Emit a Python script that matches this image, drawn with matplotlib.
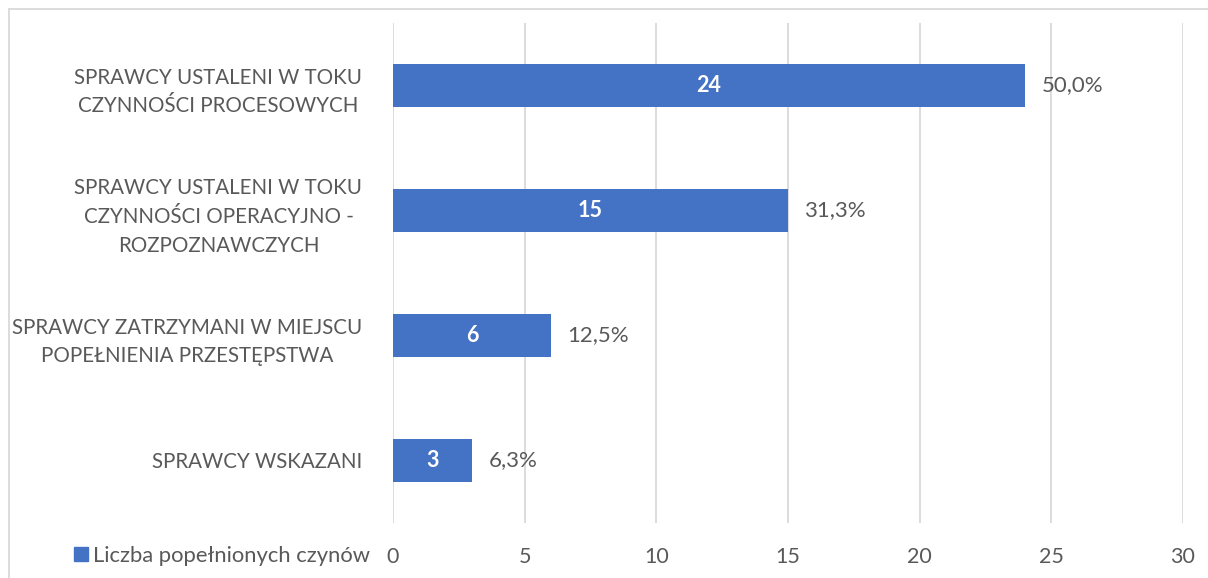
import matplotlib
matplotlib.use("Agg")
import matplotlib.pyplot as plt
from matplotlib.patches import Rectangle

categories = [
    "SPRAWCY USTALENI W TOKU\nCZYNNOŚCI PROCESOWYCH",
    "SPRAWCY USTALENI W TOKU\nCZYNNOŚCI OPERACYJNO -\nROZPOZNAWCZYCH",
    "SPRAWCY ZATRZYMANI W MIEJSCU\nPOPEŁNIENIA PRZESTĘPSTWA",
    "SPRAWCY WSKAZANI",
]
values = [24, 15, 6, 3]
percent_labels = ["50,0%", "31,3%", "12,5%", "6,3%"]
series_name = "Liczba popełnionych czynów"
xticks = [0, 5, 10, 15, 20, 25, 30]

plt.rcParams['font.family'] = ['Lato', 'DejaVu Sans']
BLUE = "#4472C4"
TXT = "#595959"
GRID = "#D9D9D9"

W, H = 1208, 578
fig = plt.figure(figsize=(W / 100, H / 100), dpi=100)
ax = fig.add_axes([393 / W, 1 - 523 / H, (1183 - 393) / W, 500 / H])

ypos = list(range(len(categories)))
ax.barh(ypos, values, height=0.35, color=BLUE, zorder=3)
ax.set_ylim(len(categories) - 0.5, -0.5)
ax.set_xlim(0, 30)
ax.set_xticks(xticks)
ax.set_xticklabels([str(t) for t in xticks], fontsize=15.5, color=TXT)
ax.tick_params(axis='x', length=0, pad=17)
ax.set_yticks(ypos)
ax.set_yticklabels(categories, fontsize=14.8, color=TXT, multialignment='center',
                   linespacing=1.55)
ax.tick_params(axis='y', length=0, pad=22)
ax.grid(axis='x', color=GRID, linewidth=1.3, zorder=0)
for s in ax.spines.values():
    s.set_visible(False)

for y, v, p in zip(ypos, values, percent_labels):
    ax.text(v / 2, y, str(v), ha='center', va='center', color='white',
            fontsize=15.5, fontweight='bold', zorder=4)
    ax.text(v + 0.62, y, p, ha='left', va='center', color=TXT, fontsize=16, zorder=4)

handle = Rectangle((0, 0), 1, 1, color=BLUE)
fig.legend([handle], [series_name], loc='center right',
           bbox_to_anchor=(370 / W, 1 - 556 / H), frameon=False,
           fontsize=15.8, labelcolor=TXT, handlelength=0.6, handleheight=0.6,
           handletextpad=0.25, borderaxespad=0, borderpad=0)

# outer chart border (cropped at right and bottom)
fig.patches.append(Rectangle((9 / W, -0.1), 1.2, 1 - 9 / H + 0.1,
                             transform=fig.transFigure, fill=False,
                             edgecolor=GRID, linewidth=1.3))

fig.savefig("out.png", dpi=100)
